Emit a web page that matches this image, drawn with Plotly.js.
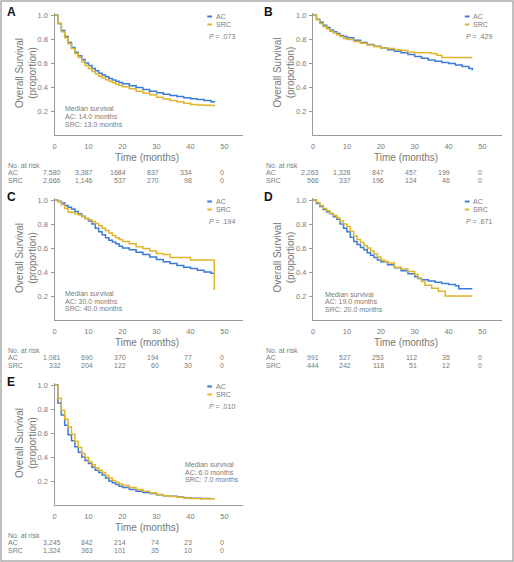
<!DOCTYPE html>
<html>
<head>
<meta charset="utf-8">
<script src="https://cdn.plot.ly/plotly-3.0.1.min.js"></script>
<style>html,body{margin:0;padding:0;background:#fff;}#chart{width:514px;height:562px;}</style>
</head>
<body>
<div id="chart"></div>
<script>
// ---------------- DATA ----------------
// Panel A
const timeA_AC = [0,1,2,3,4,5,6,7,8,9,10,11,12,13,14,15,16,17,18,19,20,22,24,26,28,30,32,34,36,38,40,42,44,46,47];
const survA_AC = [1.0,0.93,0.87,0.82,0.77,0.73,0.69,0.66,0.63,0.60,0.58,0.555,0.535,0.515,0.50,0.485,0.47,0.458,0.447,0.437,0.428,0.41,0.395,0.38,0.365,0.352,0.34,0.33,0.32,0.31,0.303,0.295,0.287,0.278,0.27];
const timeA_SRC = [0,1,2,3,4,5,6,7,8,9,10,11,12,13,14,15,16,17,18,19,20,22,24,26,28,30,32,34,36,38,40,42,44,46,47];
const survA_SRC = [1.0,0.93,0.86,0.81,0.76,0.72,0.68,0.645,0.61,0.58,0.555,0.53,0.51,0.49,0.475,0.46,0.447,0.435,0.423,0.412,0.402,0.385,0.365,0.35,0.335,0.315,0.30,0.288,0.278,0.265,0.255,0.25,0.248,0.246,0.24];
// Panel B
const timeB_AC = [0,1,2,3,4,5,6,7,8,9,10,12,14,16,18,20,22,24,26,28,30,32,34,36,38,40,42,44,46,47];
const survB_AC = [1.0,0.965,0.94,0.915,0.895,0.875,0.86,0.845,0.83,0.82,0.81,0.79,0.77,0.755,0.74,0.725,0.71,0.697,0.685,0.67,0.655,0.64,0.625,0.615,0.605,0.595,0.583,0.57,0.555,0.54];
const timeB_SRC = [0,1,2,3,4,5,6,7,8,9,10,12,14,16,18,20,22,24,26,28,30,35,36.5,38,47];
const survB_SRC = [1.0,0.96,0.93,0.905,0.885,0.865,0.85,0.835,0.82,0.805,0.795,0.78,0.765,0.75,0.735,0.725,0.72,0.71,0.705,0.69,0.685,0.68,0.665,0.645,0.645];
// Panel C
const timeC_AC = [0,1,2,3,4,5,6,7,8,9,10,11,12,13,14,15,16,17,18,19,20,22,24,26,28,30,32,34,36,38,40,42,44,46,47];
const survC_AC = [1.0,0.99,0.975,0.955,0.94,0.925,0.905,0.885,0.865,0.845,0.825,0.80,0.765,0.735,0.71,0.685,0.665,0.65,0.635,0.615,0.60,0.585,0.565,0.545,0.525,0.505,0.485,0.47,0.455,0.44,0.43,0.415,0.40,0.39,0.39];
const timeC_SRC = [0,1,2,3,4,5,6,7,8,9,10,11,12,13,14,15,16,17,18,19,20,22,24,26,28,30,32,34,40,47,47];
const survC_SRC = [1.0,0.985,0.96,0.93,0.90,0.895,0.885,0.875,0.86,0.845,0.835,0.82,0.805,0.785,0.765,0.745,0.725,0.705,0.685,0.67,0.655,0.635,0.61,0.595,0.575,0.555,0.545,0.52,0.50,0.495,0.25];
// Panel D
const timeD_AC = [0,1,2,3,4,5,6,7,8,9,10,11,12,13,14,15,16,17,18,19,20,22,24,26,28,30,31,32,34,36,38,40,42,43,47];
const survD_AC = [1.0,0.97,0.945,0.92,0.90,0.885,0.86,0.84,0.80,0.765,0.735,0.69,0.655,0.63,0.605,0.585,0.56,0.54,0.52,0.50,0.485,0.46,0.435,0.41,0.385,0.36,0.345,0.335,0.325,0.315,0.305,0.295,0.285,0.26,0.26];
const timeD_SRC = [0,1,2,3,4,5,6,7,8,9,10,11,12,13,14,15,16,17,18,19,20,21,22,24,26,28,30,31,32,33,35,37,39,47];
const survD_SRC = [1.0,0.98,0.955,0.93,0.91,0.89,0.87,0.85,0.825,0.80,0.78,0.74,0.70,0.67,0.645,0.62,0.60,0.575,0.55,0.525,0.50,0.49,0.475,0.44,0.425,0.405,0.38,0.35,0.32,0.29,0.265,0.24,0.20,0.20];
// Panel E
const timeE_AC = [0,1,2,3,4,5,6,7,8,9,10,11,12,13,14,15,16,17,18,19,20,22,24,26,28,30,32,34,36,38,40,43,46];
const survE_AC = [1.0,0.85,0.75,0.665,0.585,0.535,0.485,0.44,0.40,0.37,0.345,0.315,0.29,0.27,0.25,0.225,0.20,0.185,0.17,0.157,0.145,0.13,0.115,0.105,0.095,0.085,0.078,0.072,0.066,0.06,0.056,0.055,0.055];
const timeE_SRC = [0,1,2,3,4,5,6,7,8,9,10,11,12,13,14,15,16,17,18,19,20,22,24,26,28,30,32,34,36,38,40,43,47];
const survE_SRC = [1.0,0.89,0.79,0.715,0.65,0.59,0.53,0.48,0.43,0.395,0.36,0.335,0.31,0.29,0.27,0.245,0.225,0.205,0.19,0.175,0.162,0.145,0.13,0.115,0.10,0.087,0.078,0.07,0.064,0.058,0.055,0.052,0.045];

// Labels / annotations data
const panelLetters = ["A","B","C","D","E"];
const seriesNames = ["AC","SRC"];
const pValues = [".073",".429",".194",".671",".010"];
const medianAC = ["14.0", null, "30.0", "19.0", "6.0"];
const medianSRC = ["13.0", null, "40.0", "20.0", "7.0"];
const riskTimes = [0,10,20,30,40,50];
const riskAC = [
  ["7,580","3,387","1684","837","334","0"],
  ["2,263","1,328","847","457","199","0"],
  ["1,081","690","370","194","77","0"],
  ["991","527","253","112","35","0"],
  ["3,245","842","214","74","23","0"]
];
const riskSRC = [
  ["2,666","1,146","537","270","98","0"],
  ["566","337","196","124","46","0"],
  ["332","204","122","60","30","0"],
  ["444","242","118","51","12","0"],
  ["1,324","363","101","35","10","0"]
];
const xTicks = [0,10,20,30,40,50];
const yTicks = [0.2,0.4,0.6,0.8,1.0];
const yTickText = ["0.2","0.4","0.6","0.8","1.0"];

// ---------------- LAYOUT GEOMETRY ----------------
const W = 514, H = 562;
const px = x => x / W;
const py = y => 1 - y / H;
const FONT = '"Liberation Sans Narrow", "Arial Narrow", Arial, sans-serif';
const COL_AC = "#3a7bd5";
const COL_SRC = "#e0b42c";
const GREY = "#7a7a7a";
const TITLE_GREY = "#777777";

const cols = {
  L: {x0: 54.5, x1: 243, ppm: 3.4, base: 0},
  R: {x0: 313, x1: 502, ppm: 3.39, base: 257.5}
};
const rowsTop = [15, 200, 385];     // pixel y of survival 1.0
const panelPos = [["L",0],["R",0],["L",1],["R",1],["L",2]];
const curves = [
  [timeA_AC, survA_AC, timeA_SRC, survA_SRC],
  [timeB_AC, survB_AC, timeB_SRC, survB_SRC],
  [timeC_AC, survC_AC, timeC_SRC, survC_SRC],
  [timeD_AC, survD_AC, timeD_SRC, survD_SRC],
  [timeE_AC, survE_AC, timeE_SRC, survE_SRC]
];
const medianPos = [[63,109],null,[63,293.5],[322.5,294],[182.5,464.3]];
const riskShift = [8, 6, 5, 4.5, 3.5, 1.5];

const data = [];
const layout = {
  width: W, height: H,
  margin: {l:0, r:0, t:0, b:0},
  paper_bgcolor: "#fff", plot_bgcolor: "#fff",
  showlegend: false,
  font: {family: FONT, color: GREY, size: 7},
  annotations: [], shapes: []
};

panelPos.forEach((pp, i) => {
  const c = cols[pp[0]];
  const top = rowsTop[pp[1]];
  const zero = top + 120;
  const n = i + 1;
  const xa = "x" + (n === 1 ? "" : n), ya = "y" + (n === 1 ? "" : n);
  const xk = "xaxis" + (n === 1 ? "" : n), yk = "yaxis" + (n === 1 ? "" : n);
  layout[xk] = {
    domain: [px(c.x0), px(c.x1)], range: [0, (c.x1 - c.x0) / c.ppm],
    anchor: ya, tickvals: xTicks, ticks: "", ticklabelstandoff: 4,
    showline: true, linecolor: "#9a9a9a", linewidth: 1,
    showgrid: false, zeroline: false, fixedrange: true,
    tickfont: {family: FONT, size: 7.5, color: GREY}
  };
  layout[yk] = {
    domain: [py(zero), py(zero - 1.02 * 120)], range: [0, 1.02],
    anchor: xa, tickvals: yTicks, ticktext: yTickText,
    ticks: "outside", ticklen: 3, tickcolor: "#9a9a9a", ticklabelstandoff: 1,
    showline: true, linecolor: "#9a9a9a", linewidth: 1,
    showgrid: false, zeroline: false, fixedrange: true,
    tickfont: {family: FONT, size: 7.5, color: GREY}
  };
  const cv = curves[i];
  data.push({x: cv[0], y: cv[1], xaxis: xa, yaxis: ya, type: "scatter", mode: "lines",
    name: seriesNames[0], line: {shape: "hv", color: COL_AC, width: 1.5}});
  data.push({x: cv[2], y: cv[3], xaxis: xa, yaxis: ya, type: "scatter", mode: "lines",
    name: seriesNames[1], line: {shape: "hv", color: COL_SRC, width: 1.5}});

  const b = c.base;
  const ann = layout.annotations;
  // panel letter
  ann.push({text: "<b>" + panelLetters[i] + "</b>", xref: "paper", yref: "paper",
    x: px(b + 11), y: py(top - 3), xanchor: "center", yanchor: "middle", showarrow: false,
    font: {family: "Liberation Sans, Arial, sans-serif", size: 12, color: "#111"}});
  // y axis title
  ann.push({text: "Overall Survival<br>(proportion)", xref: "paper", yref: "paper",
    x: px(b + 26), y: py(top + 58), xanchor: "center", yanchor: "middle", showarrow: false,
    textangle: -90, font: {family: FONT, size: 10, color: TITLE_GREY}});
  // x axis title
  ann.push({text: "Time (months)", xref: "paper", yref: "paper",
    x: px((c.x0 + c.x1) / 2 - 2), y: py(zero + 22), xanchor: "center", yanchor: "middle",
    showarrow: false, font: {family: FONT, size: 10, color: TITLE_GREY}});
  // legend
  const lx = b + 207.3;
  [[COL_AC, seriesNames[0], top + 1.5], [COL_SRC, seriesNames[1], top + 9.5]].forEach(l => {
    layout.shapes.push({type: "line", xref: "paper", yref: "paper",
      x0: px(lx), x1: px(lx + 4.7), y0: py(l[2]), y1: py(l[2]),
      line: {color: l[0], width: 2}});
    ann.push({text: l[1], xref: "paper", yref: "paper", x: px(lx + 6.5), y: py(l[2]),
      xanchor: "left", yanchor: "middle", showarrow: false,
      font: {family: FONT, size: 7, color: GREY}});
  });
  ann.push({text: "<i>P</i> = " + pValues[i], xref: "paper", yref: "paper",
    x: px(b + 206.5), y: py(top + 21), xanchor: "left", yanchor: "middle", showarrow: false,
    font: {family: FONT, size: 7, color: GREY}});
  // median survival
  if (medianPos[i]) {
    const mp = medianPos[i];
    const lines = ["Median survival", "AC: " + medianAC[i] + " months", "SRC: " + medianSRC[i] + " months"];
    lines.forEach((t, k) => ann.push({text: t, xref: "paper", yref: "paper",
      x: px(mp[0]), y: py(mp[1] + k * 7.7), xanchor: "left", yanchor: "middle", showarrow: false,
      font: {family: FONT, size: 7, color: GREY}}));
  }
  // risk table
  const r0 = zero + 30.3;
  const lblX = b + 6;
  ann.push({text: "No. at risk", xref: "paper", yref: "paper", x: px(lblX), y: py(r0),
    xanchor: "left", yanchor: "middle", showarrow: false, font: {family: FONT, size: 7, color: GREY}});
  ann.push({text: seriesNames[0], xref: "paper", yref: "paper", x: px(lblX), y: py(r0 + 7.6),
    xanchor: "left", yanchor: "middle", showarrow: false, font: {family: FONT, size: 7, color: GREY}});
  ann.push({text: seriesNames[1], xref: "paper", yref: "paper", x: px(lblX), y: py(r0 + 15.2),
    xanchor: "left", yanchor: "middle", showarrow: false, font: {family: FONT, size: 7, color: GREY}});
  riskTimes.forEach((t, k) => {
    ann.push({text: riskAC[i][k], xref: xa, yref: "paper", x: t, xshift: riskShift[k], y: py(r0 + 7.6),
      xanchor: "right", yanchor: "middle", showarrow: false, font: {family: FONT, size: 7, color: GREY}});
    ann.push({text: riskSRC[i][k], xref: xa, yref: "paper", x: t, xshift: riskShift[k], y: py(r0 + 15.2),
      xanchor: "right", yanchor: "middle", showarrow: false, font: {family: FONT, size: 7, color: GREY}});
  });
});

// outer frame
layout.shapes.push({type: "rect", xref: "paper", yref: "paper",
  x0: px(1), x1: px(513), y0: py(561), y1: py(1), line: {color: "#aaaaaa", width: 1.5}});

Plotly.newPlot("chart", data, layout, {staticPlot: true, displayModeBar: false});
</script>
</body>
</html>
